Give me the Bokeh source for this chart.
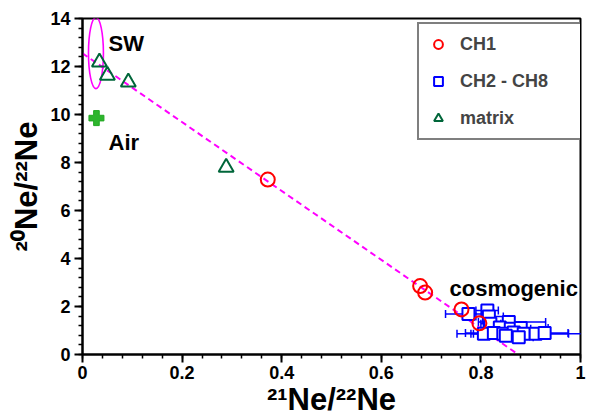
import numpy as np
from bokeh.plotting import figure
from bokeh.models import (ColumnDataSource, Range1d, FixedTicker, CustomJSTickFormatter,
                          Whisker, TeeHead, Label, Legend, LegendItem)
from bokeh.embed import file_html
from bokeh.resources import INLINE

# ---- data ----
ch1_x = [0.372, 0.678, 0.688, 0.761, 0.797]
ch1_y = [7.29, 2.85, 2.58, 1.88, 1.30]

ch2_x = [0.775, 0.813, 0.816, 0.856, 0.819, 0.838, 0.860, 0.880, 0.806, 0.826,
         0.845, 0.866, 0.886, 0.910, 0.928, 0.876, 0.850]
ch2_y = [1.69, 1.83, 1.58, 1.35, 1.28, 1.12, 1.07, 1.10, 0.86, 0.90,
         0.86, 0.92, 0.86, 0.86, 0.90, 0.72, 0.78]
ch2_lo = [0.729, 0.790, 0.790, 0.795, 0.800, 0.805, 0.820, 0.830, 0.752, 0.769,
          0.785, 0.835, 0.780, 0.840, 0.880, 0.845, 0.830]
ch2_hi = [0.820, 0.835, 0.845, 0.930, 0.840, 0.870, 0.900, 0.935, 0.860, 0.880,
          0.905, 0.895, 1.010, 0.976, 0.975, 0.905, 0.870]

matrix_x = [0.034, 0.050, 0.092, 0.2885]
matrix_y = [12.18, 11.63, 11.35, 7.80]

air_x = [0.028]
air_y = [9.85]

sw_x = [0.027]
sw_y = [12.56]
sw_w = [0.030]
sw_h = [2.96]

mix_x = [0.0, 0.875]
mix_y = [12.55, 0.0]

x_ticks = [0, 0.2, 0.4, 0.6, 0.8, 1.0]
x_minor = [round(0.04 * i, 2) for i in range(26)]
y_ticks = [0, 2, 4, 6, 8, 10, 12, 14]
y_minor = [round(0.4 * i, 1) for i in range(36)]

FONT = "Liberation Sans"

p = figure(width=590, height=419, output_backend="svg", toolbar_location=None,
           x_range=Range1d(0, 1), y_range=Range1d(0, 14),
           min_border_left=82, min_border_right=10, min_border_top=18, min_border_bottom=65,
           x_axis_label="\u00b2\u00b9Ne/\u00b2\u00b2Ne",
           y_axis_label="\u00b2\u2070Ne/\u00b2\u00b2Ne")
p.grid.visible = False
p.background_fill_color = "white"
p.outline_line_color = "black"
p.outline_line_width = 2

for ax, tk, mn in ((p.xaxis[0], x_ticks, x_minor), (p.yaxis[0], y_ticks, y_minor)):
    ax.ticker = FixedTicker(ticks=tk, minor_ticks=mn)
    ax.axis_line_width = 2
    ax.major_tick_line_width = 2
    ax.minor_tick_line_width = 1.5
    ax.major_tick_out = 8
    ax.major_tick_in = 0
    ax.minor_tick_out = 4
    ax.minor_tick_in = 0
    ax.major_label_text_font = FONT
    ax.major_label_text_font_style = "bold"
    ax.major_label_text_font_size = "18px"
    ax.major_label_text_color = "black"
    ax.axis_label_text_font = FONT
    ax.axis_label_text_font_style = "bold"
    ax.axis_label_text_font_size = "31px"
    ax.axis_label_text_color = "black"
p.xaxis[0].major_label_standoff = 3
p.yaxis[0].major_label_standoff = 4
p.xaxis[0].formatter = CustomJSTickFormatter(code="return String(Number(tick.toFixed(2)));")
p.xaxis[0].axis_label_standoff = 0
p.yaxis[0].axis_label_standoff = 3

# mixing line and SW ellipse
p.line(mix_x, mix_y, line_color="#ff00ff", line_width=2, line_dash="6 4")
p.ellipse(x=sw_x, y=sw_y, width=sw_w, height=sw_h, fill_alpha=0,
          line_color="#ff00ff", line_width=1.6)

# error bars
src2 = ColumnDataSource(dict(x=ch2_x, y=ch2_y, lo=ch2_lo, hi=ch2_hi))
wh = Whisker(source=src2, base="y", lower="lo", upper="hi", dimension="width",
             line_color="#0000ff", line_width=1.5,
             lower_head=TeeHead(size=8, line_color="#0000ff", line_width=1.5),
             upper_head=TeeHead(size=8, line_color="#0000ff", line_width=1.5))
p.add_layout(wh)

r_ch2 = p.scatter("x", "y", source=src2, marker="square", size=12, fill_color="white",
                  line_color="#0000ff", line_width=2)
r_ch1 = p.scatter(ch1_x, ch1_y, marker="circle", size=14, fill_color="white", fill_alpha=0,
                  line_color="#ff0000", line_width=2)
r_mat = p.scatter(matrix_x, matrix_y, marker="triangle", size=15, fill_alpha=0,
                  line_color="#00663a", line_width=2)
p.scatter(air_x, air_y, marker="plus", size=15, fill_color="#2db52d",
          line_color="#22a822", line_width=1)

legend = Legend(items=[LegendItem(label="CH1", renderers=[r_ch1]),
                       LegendItem(label="CH2 - CH8", renderers=[r_ch2]),
                       LegendItem(label="matrix", renderers=[r_mat])],
                location=(335, 214), orientation="vertical",
                padding=8, spacing=13, margin=0,
                glyph_width=22, glyph_height=24, label_height=24,
                label_width=117, label_standoff=11,
                label_text_font=FONT, label_text_font_size="18px",
                label_text_font_style="bold",
                border_line_color="black", border_line_width=2,
                background_fill_color="white", background_fill_alpha=1)
p.add_layout(legend)

def px2x(px):
    return (px - 82) / 498.0

def py2y(py):
    return (354 - py) / 24.0

def lab(x, y, text, size):
    p.add_layout(Label(x=x, y=y, text=text, text_font=FONT, text_font_style="bold",
                       text_font_size=size, text_color="black",
                       text_align="left", text_baseline="alphabetic"))

lab(px2x(108), py2y(43), "SW", "22px")
lab(px2x(108), py2y(142), "Air", "22px")
lab(px2x(449), py2y(288), "cosmogenic", "22px")

open("out.html", "w").write(file_html(p, INLINE))
